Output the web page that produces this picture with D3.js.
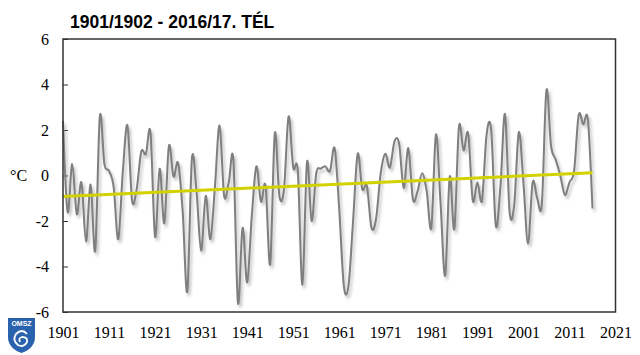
<!DOCTYPE html>
<html><head><meta charset="utf-8">
<script src="https://cdn.jsdelivr.net/npm/d3@7"></script>
<style>body{margin:0;background:#fff}svg{display:block}</style>
</head><body>
<svg id="c" width="640" height="355"></svg>
<script>
const title = "1901/1902 - 2016/17. TÉL";
const yLabel = "°C";
const startYear = 1901;
const values = [
 2.4,-1.6,0.5,-1.7,-0.3,-2.9,-0.4,-3.3,2.6,0.5,
 0.2,-0.5,-2.8,0.2,2.2,-1.1,-0.6,1.05,0.95,1.9,
 -2.7,0.3,-2.1,1.3,-0.05,0.55,-1.6,-5.1,0.75,-0.7,
 -3.3,-0.9,-2.8,-0.5,2.2,-0.9,-0.3,0.7,-5.6,-2.3,
 -4.7,-1.8,0.4,-1.15,-0.45,-3.9,1.85,-0.9,-0.6,2.6,
 0.35,0.2,-4.8,0.6,-2.0,0.1,0.3,0.4,0.2,1.2,
 -1.5,-4.85,-4.85,-2.0,0.95,-0.6,-0.45,-2.3,-1.9,0.1,
 0.95,0.35,1.5,1.4,-0.55,1.2,-1.05,-0.7,0.1,-0.7,
 -2.3,1.8,-1.2,-4.4,-0.05,-2.35,2.15,1.1,1.85,-1.1,
 -0.3,-1.1,1.8,2.0,-2.2,-0.5,2.7,-1.6,-1.3,1.9,
 -0.3,-3.0,-0.3,-1.0,-1.25,3.75,1.3,0.7,0.0,-0.85,
 -0.3,0.2,2.65,2.25,2.45,-1.45
];
const years = values.map((v,i)=>startYear+i);
const trendYears = [1901, 2016];
const trendValues = [-0.92, 0.12];
const xTicks = [1901,1911,1921,1931,1941,1951,1961,1971,1981,1991,2001,2011,2021];
const yTicks = [-6,-4,-2,0,2,4,6];

const svg = d3.select("#c");
const L=63, R=615.5, T=39, B=312;
const x = d3.scaleLinear().domain([1901,2021]).range([L,R]);
const y = d3.scaleLinear().domain([-6,6]).range([B,T]);

const defs = svg.append("defs");
const f = defs.append("filter").attr("id","sh").attr("x","-10%").attr("y","-10%").attr("width","130%").attr("height","130%");
f.append("feDropShadow").attr("dx",2).attr("dy",3).attr("stdDeviation",1.6)
 .attr("flood-color","#888").attr("flood-opacity",0.55);

// title
svg.append("text").attr("x",70).attr("y",28).text(title)
 .attr("font-family","Liberation Sans, Arial, sans-serif").attr("font-weight","bold")
 .attr("font-size",17.5).attr("fill","#000");

// y axis
const ya = svg.append("g").attr("transform",`translate(${L},0)`)
 .call(d3.axisLeft(y).tickValues(yTicks).tickSizeInner(-5).tickSizeOuter(0).tickPadding(14).tickFormat(d=>String(d)));
ya.select(".domain").remove();
ya.selectAll("line").attr("stroke","#333");
ya.selectAll("text").attr("font-family","Liberation Serif, Times New Roman, serif").attr("font-size",16).attr("fill","#000");

// x axis
const xa = svg.append("g").attr("transform",`translate(0,${B})`)
 .call(d3.axisBottom(x).tickValues(xTicks).tickSize(0).tickPadding(15).tickFormat(d=>String(d)));
xa.select(".domain").remove();
xa.selectAll("text").attr("font-family","Liberation Serif, Times New Roman, serif").attr("font-size",16).attr("fill","#000");

svg.append("text").attr("x",10).attr("y",181).text(yLabel)
 .attr("font-family","Liberation Serif, Times New Roman, serif").attr("font-size",16).attr("fill","#000");

// data line
const line = d3.line().x((d,i)=>x(years[i])).y(d=>y(d)).curve(d3.curveCardinal.tension(0));
svg.append("path").datum(values).attr("d",line).attr("fill","none")
 .attr("stroke","#7f7f7f").attr("stroke-width",2).attr("filter","url(#sh)");

// trend
svg.append("path").datum(trendValues)
 .attr("d",d3.line().x((d,i)=>x(trendYears[i])).y(d=>y(d)))
 .attr("stroke","#d2d200").attr("stroke-width",3).attr("fill","none");

// frame
svg.append("rect").attr("x",L).attr("y",T).attr("width",R-L).attr("height",B-T)
 .attr("fill","none").attr("stroke","#333").attr("stroke-width",1.5);

// logo
const lg = svg.append("g");
lg.append("path").attr("d","M8,318 H35 V337 Q35,348 21.5,353 Q8,348 8,337 Z").attr("fill","#2b62ad");
lg.append("text").attr("x",21.5).attr("y",326).attr("text-anchor","middle")
 .attr("font-family","Liberation Sans, Arial, sans-serif").attr("font-weight","bold")
 .attr("font-size",7).attr("fill","#fff").text("OMSZ");
lg.append("path").attr("d","M27,334 Q22,328 16,334 Q12,340 18,345 Q24,348 27,342 Q28,337 22,337 Q18,338 20,342")
 .attr("fill","none").attr("stroke","#fff").attr("stroke-width",1.8);
</script>
</body></html>
